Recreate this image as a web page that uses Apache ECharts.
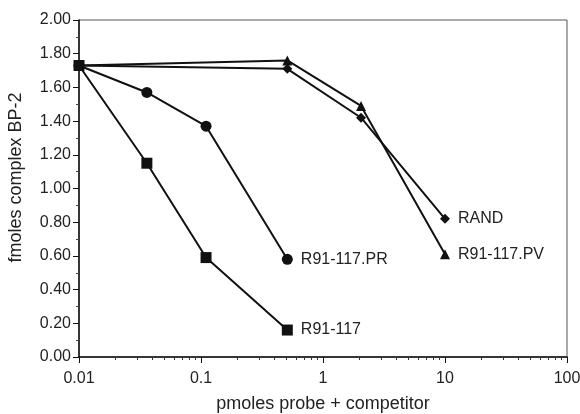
<!DOCTYPE html>
<html><head><meta charset="utf-8">
<script src="https://cdn.jsdelivr.net/npm/echarts@6/dist/echarts.min.js"></script>
<style>html,body{margin:0;padding:0;background:#fff}#c{width:580px;height:414px}</style>
</head><body><div id="c"></div>
<script>
var xLow = [0.01, 0.036, 0.11, 0.51];
var xHigh = [0.01, 0.51, 2.05, 10];
var r91_117 = [1.73, 1.15, 0.59, 0.16];
var r91_117_PR = [1.73, 1.57, 1.37, 0.58];
var r91_117_PV = [1.73, 1.76, 1.49, 0.61];
var rand = [1.73, 1.71, 1.42, 0.82];
var xTickLabels = ['0.01', '0.1', '1', '10', '100'];

function pairs(xs, ys){ return xs.map(function(x,i){return [x, ys[i]];}); }
// log-scale minor tick positions (2..9 within each decade)
var minorX = [];
[0.01, 0.1, 1, 10].forEach(function(d){ for (var k = 2; k <= 9; k++) minorX.push(+(d*k).toPrecision(6)); });

var FONT = '"Liberation Sans", Arial, sans-serif';
function mk(name, xs, ys, symbol, size){
  return {
    name: name, type: 'line', data: pairs(xs, ys),
    symbol: symbol, symbolSize: size, showAllSymbol: true,
    lineStyle: {color: '#111', width: 2},
    itemStyle: {color: '#111'},
    label: {show: true, position: 'right', distance: 8, color: '#222', fontSize: 16, fontFamily: FONT,
      formatter: function(p){ return p.dataIndex === ys.length - 1 ? name : ''; }},
    emphasis: {disabled: true}, animation: false, z: 3
  };
}
var chart = echarts.init(document.getElementById('c'));
chart.setOption({
  animation: false,
  grid: {left: 79, right: 13, top: 20, bottom: 57, show: true, borderColor: '#555', borderWidth: 1,
    containLabel: false, outerBoundsMode: 'none'},
  xAxis: [{
    type: 'log', min: 0.01, max: 100, logBase: 10,
    name: 'pmoles probe + competitor', nameLocation: 'middle', nameGap: 38,
    nameTextStyle: {fontSize: 18, color: '#222', fontFamily: FONT},
    axisLine: {show: true, lineStyle: {color: '#111', width: 1.5}},
    axisTick: {show: true, inside: false, length: 6, lineStyle: {color: '#111'}},
    minorTick: {show: false},
    splitLine: {show: false},
    axisLabel: {fontSize: 16, color: '#222', fontFamily: FONT, margin: 14,
      formatter: function(v){
        var i = Math.round(Math.log10(v) + 2);
        return xTickLabels[i] !== undefined ? xTickLabels[i] : String(v);
      }}
  }, {
    type: 'log', min: 0.01, max: 100, logBase: 10, position: 'bottom', gridIndex: 0,
    axisLine: {show: false},
    axisTick: {show: true, inside: false, length: 3, customValues: minorX, lineStyle: {color: '#333'}},
    axisLabel: {show: false},
    splitLine: {show: false}
  }],
  yAxis: {
    type: 'value', min: 0, max: 2, interval: 0.2,
    name: 'fmoles complex BP-2', nameLocation: 'middle', nameGap: 54,
    nameTextStyle: {fontSize: 18, color: '#222', fontFamily: FONT, padding: [0, 0, 0, 22]},
    axisLine: {show: true, lineStyle: {color: '#111', width: 1.5}},
    axisTick: {show: true, inside: false, length: 6, lineStyle: {color: '#111'}},
    minorTick: {show: true, splitNumber: 2, length: 3, lineStyle: {color: '#444'}},
    splitLine: {show: false},
    axisLabel: {fontSize: 16, color: '#222', fontFamily: FONT, margin: 8,
      formatter: function(v){ return v.toFixed(2); }}
  },
  series: [
    mk('R91-117', xLow, r91_117, 'rect', 11),
    mk('R91-117.PR', xLow, r91_117_PR, 'circle', 11),
    mk('R91-117.PV', xHigh, r91_117_PV, 'triangle', 10),
    mk('RAND', xHigh, rand, 'diamond', 10)
  ]
});
</script></body></html>
